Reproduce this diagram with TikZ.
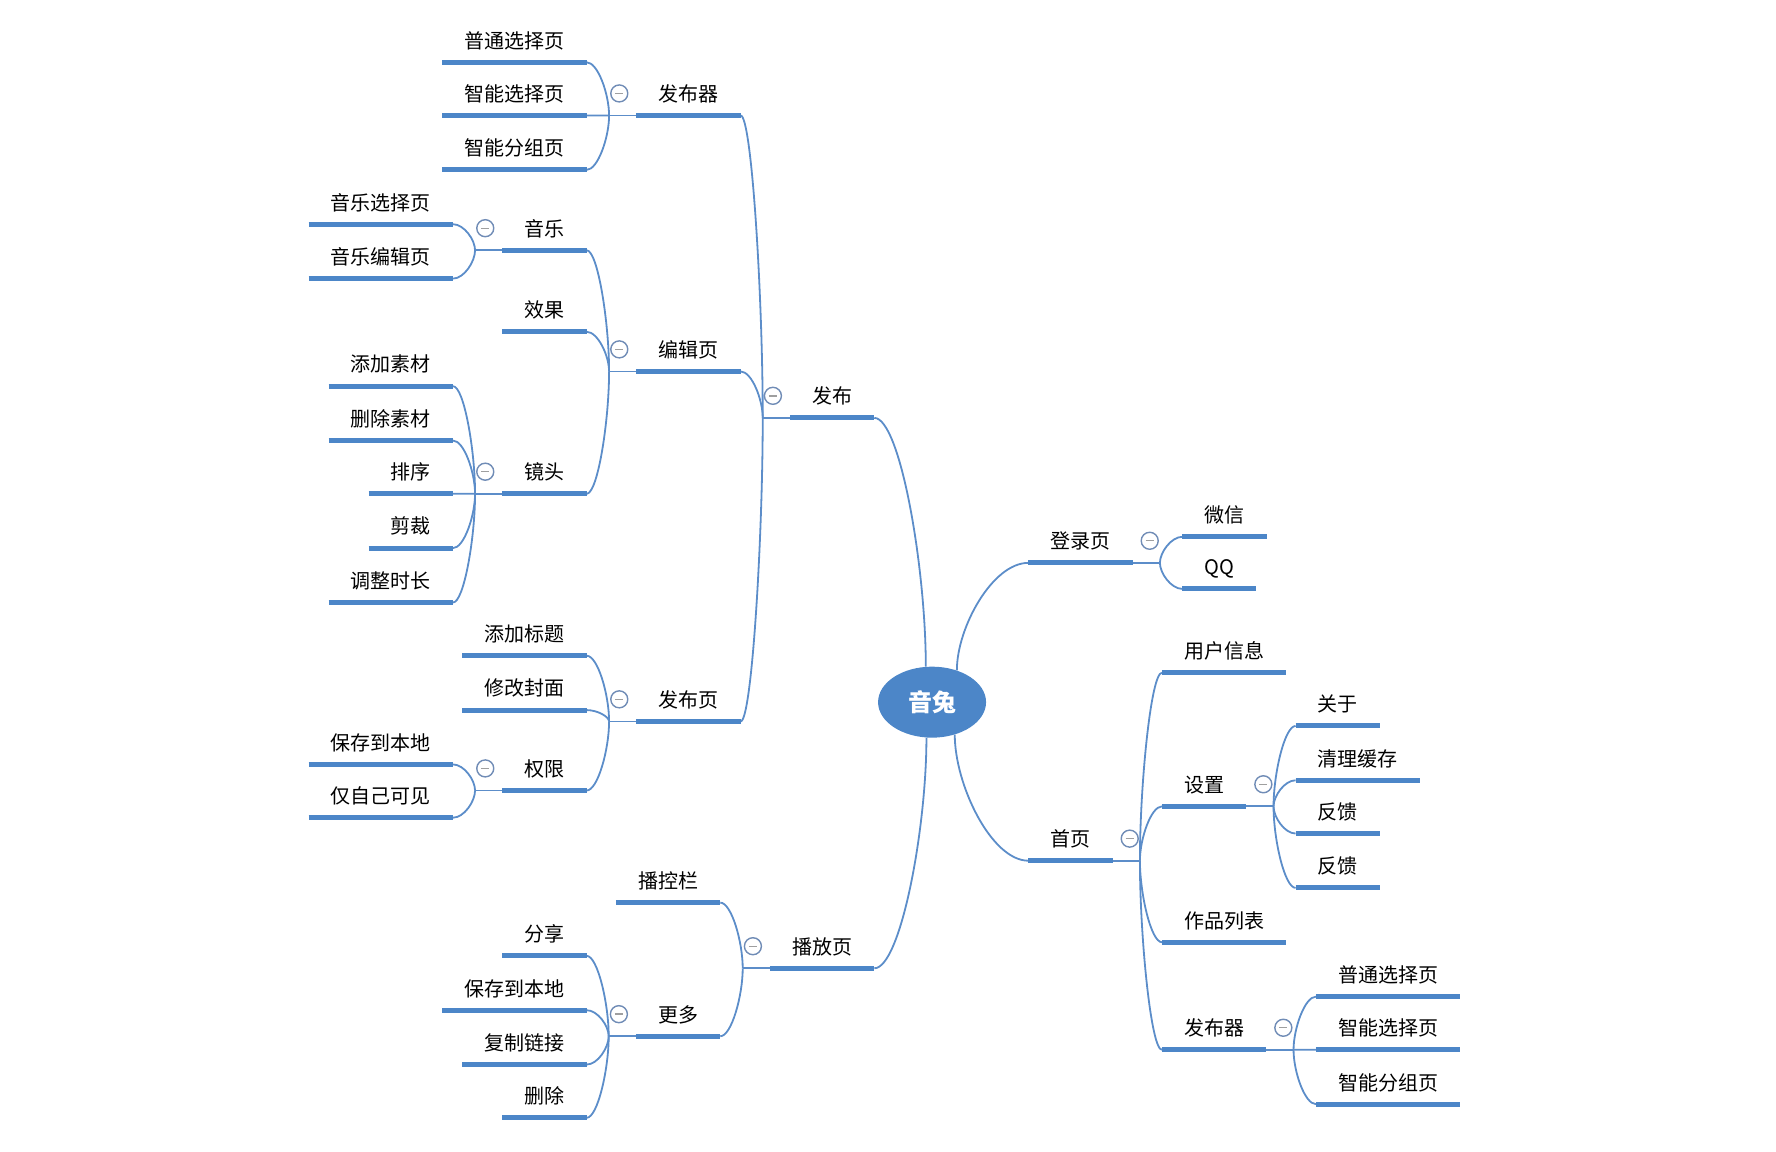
\documentclass[tikz,border=0pt]{standalone}
\usepackage{fontspec}
\newfontfamily\cjk{Noto Sans CJK SC}
\usetikzlibrary{calc, shapes.geometric}

\definecolor{barblue}{RGB}{76,134,200}
\definecolor{lineblue}{RGB}{92,141,201}
\definecolor{foldgray}{RGB}{112,140,182}

\tikzset{
  topic/.style={font=\cjk\fontsize{20}{24}\selectfont, inner xsep=22pt, inner ysep=0pt, text height=18pt, text depth=14pt},
  lt/.style={topic, anchor=south east},
  rt/.style={topic, anchor=south west},
  bar/.style={barblue, line width=5pt},
  link/.style={lineblue, line width=1.8pt, to path={.. controls ($(\tikztostart)!0.4!(\tikztostart|-\tikztotarget)$) and ($(\tikztotarget)!0.5!(\tikztotarget-|\tikztostart)$) .. (\tikztotarget)}},
  fold/.style={circle, draw=foldgray, line width=1.4pt, fill=white, minimum size=17pt, inner sep=0pt,
    path picture={\draw[gray!75, line width=1.4pt] ([xshift=-4pt]path picture bounding box.center) -- ([xshift=4pt]path picture bounding box.center);}},
}

\begin{document}
\begin{tikzpicture}[x=1.1325pt, y=-1.1325pt]
  \useasboundingbox (0,0) rectangle (1568.2,1017.2);

  % centre
  \node[ellipse, fill=barblue, minimum width=108pt, minimum height=71pt, inner sep=0pt, text=white,
    font=\cjk\bfseries\fontsize{24}{28}\selectfont] (root) at (823,620) {音兔};

  % first level
  \node[lt] (fb) at (772,369) {发布};
  \node[lt] (bfy) at (772,855) {播放页};
  \node[rt] (dly) at (908,497) {登录页};
  \node[rt] (sy) at (908,760) {首页};

  % second level
  \node[lt] (fbq) at (654,102) {发布器};
  \node[lt] (bjy) at (654,328) {编辑页};
  \node[lt] (fby) at (654,637) {发布页};
  \node[lt] (bkl) at (636,797) {播控栏};
  \node[lt] (gd) at (636,915) {更多};
  \node[rt] (wx) at (1044,474) {微信};
  \node[rt] (qq) at (1044,520) {QQ};
  \node[rt] (yhxx) at (1026,594) {用户信息};
  \node[rt] (sz) at (1026,712) {设置};
  \node[rt] (zplb) at (1026,832) {作品列表};
  \node[rt] (fbqr) at (1026,927) {发布器};

  % third level
  \node[lt] (ptxz) at (518,55) {普通选择页};
  \node[lt] (znxz) at (518,102) {智能选择页};
  \node[lt] (znfz) at (518,150) {智能分组页};
  \node[lt] (yy) at (518,221) {音乐};
  \node[lt] (xg) at (518,293) {效果};
  \node[lt] (jt) at (518,436) {镜头};
  \node[lt] (tjbt) at (518,579) {添加标题};
  \node[lt] (xgfm) at (518,627) {修改封面};
  \node[lt] (qx) at (518,698) {权限};
  \node[lt] (fx) at (518,844) {分享};
  \node[lt] (bcbd) at (518,892) {保存到本地};
  \node[lt] (fzlj) at (518,940) {复制链接};
  \node[lt] (sc) at (518,987) {删除};
  \node[rt] (gy) at (1144,641) {关于};
  \node[rt] (qlhc) at (1144,689) {清理缓存};
  \node[rt] (fka) at (1144,736) {反馈};
  \node[rt] (fkb) at (1144,784) {反馈};
  \node[rt] (ptxzr) at (1162,880) {普通选择页};
  \node[rt] (znxzr) at (1162,927) {智能选择页};
  \node[rt] (znfzr) at (1162,975) {智能分组页};

  % fourth level
  \node[lt] (yyxz) at (400,198) {音乐选择页};
  \node[lt] (yybj) at (400,246) {音乐编辑页};
  \node[lt] (tjsc) at (400,341) {添加素材};
  \node[lt] (scsc) at (400,389) {删除素材};
  \node[lt] (px) at (400,436) {排序};
  \node[lt] (cj) at (400,484) {剪裁};
  \node[lt] (tzsc) at (400,532) {调整时长};
  \node[lt] (bcbdq) at (400,675) {保存到本地};
  \node[lt] (jzj) at (400,722) {仅自己可见};

  % forks
  \foreach \p in {fb,bfy,fbq,bjy,fby,gd,yy,jt,qx}{
    \coordinate (\p-f) at ($(\p.south west)+(-24,0)$);
    \draw[link] (\p.south west) -- (\p-f);
  }
  \foreach \p in {dly,sy,sz,fbqr}{
    \coordinate (\p-f) at ($(\p.south east)+(24,0)$);
    \draw[link] (\p.south east) -- (\p-f);
  }

  % connectors
  \draw[link] (root.100) to (fb.south east);
  \draw[link] (root.-99) to (bfy.south east);
  \draw[link] (root.52) to (dly.south west);
  \draw[link] (root.-55) to (sy.south west);
  \foreach \p/\c in {fb/fbq, fb/bjy, fb/fby, bfy/bkl, bfy/gd,
      fbq/ptxz, fbq/znxz, fbq/znfz, bjy/yy, bjy/xg, bjy/jt,
      fby/tjbt, fby/xgfm, fby/qx, gd/fx, gd/bcbd, gd/fzlj, gd/sc,
      yy/yyxz, yy/yybj, jt/tjsc, jt/scsc, jt/px, jt/cj, jt/tzsc,
      qx/bcbdq, qx/jzj}
    \draw[link] (\p-f) to (\c.south east);
  \foreach \p/\c in {dly/wx, dly/qq, sy/yhxx, sy/sz, sy/zplb, sy/fbqr,
      sz/gy, sz/qlhc, sz/fka, sz/fkb, fbqr/ptxzr, fbqr/znxzr, fbqr/znfzr}
    \draw[link] (\p-f) to (\c.south west);

  % bars under the topics
  \foreach \n in {fb,bfy,dly,sy,fbq,bjy,fby,bkl,gd,wx,qq,yhxx,sz,zplb,fbqr,
      ptxz,znxz,znfz,yy,xg,jt,tjbt,xgfm,qx,fx,bcbd,fzlj,sc,gy,qlhc,fka,fkb,
      ptxzr,znxzr,znfzr,yyxz,yybj,tjsc,scsc,px,cj,tzsc,bcbdq,jzj}
    \draw[bar] (\n.south west) -- (\n.south east);

  % fold markers
  \foreach \p in {fb,bfy,fbq,bjy,fby,gd,yy,jt,qx}
    \node[fold] (\p-m) at ($(\p.south west)+(-15,-19.5)$) {};
  \foreach \p in {dly,sy,sz,fbqr}
    \node[fold] (\p-m) at ($(\p.south east)+(15,-19.5)$) {};
\end{tikzpicture}
\end{document}
